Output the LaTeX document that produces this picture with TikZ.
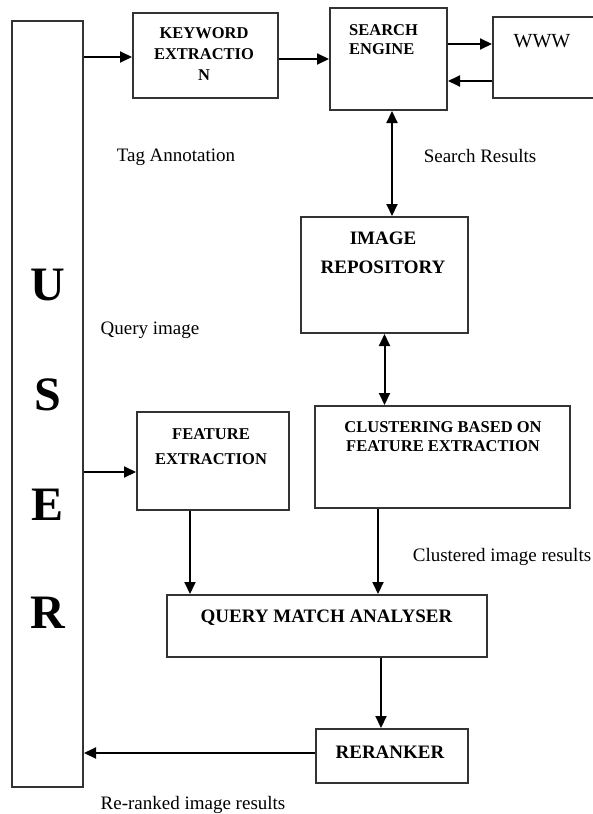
\documentclass[tikz,border=0pt]{standalone}
\usepackage{fontspec}
\setmainfont{Liberation Serif}
\usetikzlibrary{arrows.meta,calc}

\tikzset{
  blk/.style={draw=black!80, line width=2pt, rectangle, inner sep=0pt, fill=white},
  tip/.tip={Triangle[length=12pt,width=11pt]},
  arr/.style={draw=black, line width=2pt, -tip},
  darr/.style={draw=black, line width=2pt, tip-tip},
  bsmall/.style={font=\bfseries\fontsize{16.5}{19}\selectfont, inner sep=0pt, align=center},
  bbig/.style={font=\bfseries\fontsize{19}{29}\selectfont, inner sep=0pt, align=center},
  lbl/.style={font=\fontsize{19}{22}\selectfont, inner sep=0pt},
  userletter/.style={font=\bfseries\fontsize{48}{50}\selectfont, inner sep=0pt}
}

\begin{document}
\begin{tikzpicture}[x=1pt, y=-1pt]
  \useasboundingbox (0,0) rectangle (592,814);

  % blocks
  \node[blk, minimum width=71pt,  minimum height=766pt] (user) at (47.5,404) {};
  \node[blk, minimum width=145pt, minimum height=85pt]  (kw)   at (205.5,55.5) {};
  \node[blk, minimum width=117pt, minimum height=102pt] (se)   at (388.5,59) {};
  \node[blk, minimum width=105pt, minimum height=81pt]  (www)  at (545.5,57.5) {};
  \node[blk, minimum width=167pt, minimum height=116pt] (ir)   at (384.5,275) {};
  \node[blk, minimum width=255pt, minimum height=102pt] (cl)   at (442.5,457) {};
  \node[blk, minimum width=152pt, minimum height=98pt]  (fe)   at (213,461) {};
  \node[blk, minimum width=320pt, minimum height=62pt]  (qma)  at (327,626) {};
  \node[blk, minimum width=152pt, minimum height=54pt]  (rr)   at (392,756) {};

  % block captions
  \node[userletter] (uU) at (48,285) {U};
  \node[userletter] (uS) at (48,395) {S};
  \node[userletter] (uE) at (48,505) {E};
  \node[userletter] (uR) at (48,613) {R};

  \node[bsmall, font=\bfseries\fontsize{16.5}{21}\selectfont] (tkw) at (204,54) {KEYWORD\\EXTRACTIO\\N};
  \node[bsmall, align=left, anchor=west] (tse) at (349,39.5) {SEARCH\\ENGINE};
  \node[lbl, font=\fontsize{20}{22}\selectfont] (twww) at (542,41) {WWW};
  \node[bbig] (tir) at (383,252.5) {IMAGE\\REPOSITORY};
  \node[bsmall] (tcl) at (443,436.5) {CLUSTERING BASED ON\\FEATURE EXTRACTION};
  \node[bsmall, font=\bfseries\fontsize{16.5}{25}\selectfont] (tfe) at (211,446.5) {FEATURE\\EXTRACTION};
  \node[bbig] (tqma) at (326.5,618) {QUERY MATCH ANALYSER};
  \node[bbig] (trr) at (390,752) {RERANKER};

  % free labels
  \node[lbl] (ltag) at (176,157) {Tag Annotation};
  \node[lbl] (lsr)  at (480,156) {Search Results};
  \node[lbl] (lqi)  at (150,330) {Query image};
  \node[lbl] (lcir) at (502,557) {Clustered image results};
  \node[lbl] (lrir) at (193,805) {Re-ranked image results};

  % connectors
  \draw[arr] ([yshift=-1.5pt]user.east |- kw.west) -- ([yshift=-1.5pt]kw.west);
  \draw[arr] (kw.east |- se.west) -- (se.west);
  \draw[arr] ([yshift=15pt]se.east) -- ([yshift=15pt]se.east -| www.west);
  \draw[arr] ([yshift=-22pt]se.east -| www.west) -- ([yshift=-22pt]se.east);
  \draw[darr] ([xshift=3.5pt]se.south) -- ([xshift=3.5pt]se.south |- ir.north);
  \draw[darr] (ir.south) -- (ir.south |- cl.north);
  \draw[arr] ([xshift=-64.5pt]cl.south) -- ([xshift=-64.5pt]cl.south |- qma.north);
  \draw[arr] ([yshift=-11pt]user.east |- fe.west) -- ([yshift=-11pt]fe.west);
  \draw[arr] ([xshift=-23pt]fe.south) -- ([xshift=-23pt]fe.south |- qma.north);
  \draw[arr] ([xshift=-11pt]rr.north |- qma.south) -- ([xshift=-11pt]rr.north);
  \draw[arr] ([yshift=3pt]rr.west) -- ([yshift=3pt]rr.west -| user.east);
\end{tikzpicture}
\end{document}
